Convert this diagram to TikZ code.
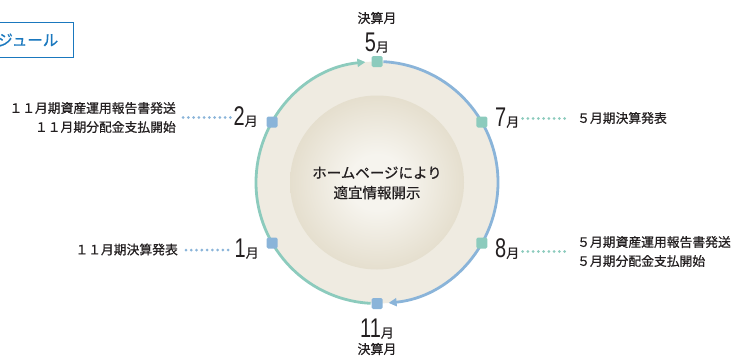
\documentclass[tikz,border=0pt]{standalone}
\usepackage{fontspec}
\setmainfont{Noto Sans CJK JP}
\newfontfamily\jpmed{Noto Sans CJK JP}[FakeBold=0.7]
\newfontfamily\numfont{Liberation Sans}
\usetikzlibrary{arrows.meta,decorations.markings}
\definecolor{teal1}{HTML}{8CCBBD}
\definecolor{blue1}{HTML}{8AB4D9}
\definecolor{beige}{HTML}{EFEBE1}
\definecolor{innerc}{HTML}{F6F4EE}
\definecolor{outerc}{HTML}{CCBF9F}
\definecolor{titleblue}{HTML}{1A78BE}
\definecolor{txt}{HTML}{231F20}
\pgfdeclareradialshading{discshade}{\pgfpoint{0bp}{0bp}}{color(0bp)=(innerc); color(8bp)=(innerc); color(50bp)=(outerc)}
\tikzset{
  marker/.style={draw=none, fill=#1, minimum size=11pt, inner sep=0pt, rounded corners=1.5pt},
  month/.style={inner sep=0pt, text=txt, font=\jpmed\fontsize{13}{14}\selectfont},
  note/.style={inner sep=0pt, text=txt, font=\jpmed\fontsize{12.8}{19}\selectfont, align=#1},
  dotline/.style={decoration={markings, mark=between positions 0 and 1 step 5.25pt with {\fill[#1] (0,0) circle[radius=1.5pt];}}, decorate},
  ring/.style={draw=#1, line width=2.8pt},
}
\newcommand{\bignum}[1]{\scalebox{0.74}[1]{\fontsize{27}{27}\selectfont\numfont #1}}
\begin{document}
\begin{tikzpicture}[x=1pt,y=1pt]
\useasboundingbox (0,0) rectangle (738,357);
% title box (cut at left)
\node[draw=titleblue, line width=1.4pt, text=titleblue, font=\jpmed\fontsize{15.5}{16}\selectfont, anchor=east, minimum height=35pt, inner xsep=15pt] (title) at (74,317) {スケジュール};
% disc
\coordinate (c) at (377,174.5);
\fill[beige] (c) circle[radius=121];
\shade[shading=discshade] (c) circle[radius=87];
\node[text=txt, font=\jpmed\fontsize{14.5}{20}\selectfont, align=center] (center) at (377,174) {ホームページにより\\適宜情報開示};
% arcs
\draw[ring=teal1, -{Triangle[length=8pt,width=8pt]}] ([shift={(267:121)}]c) arc[start angle=267, end angle=95.5, radius=121];
\draw[ring=blue1, -{Triangle[length=8pt,width=8pt]}] ([shift={(87:121)}]c) arc[start angle=87, end angle=-84.5, radius=121];
% markers
\node[marker=teal1] (m5) at ([shift={(90:121)}]c) {};
\node[marker=teal1] (m7) at ([shift={(30:121)}]c) {};
\node[marker=teal1] (m8) at ([shift={(-30:121)}]c) {};
\node[marker=blue1] (m11) at ([shift={(-90:121)}]c) {};
\node[marker=blue1] (m1) at ([shift={(210:121)}]c) {};
\node[marker=blue1] (m2) at ([shift={(150:121)}]c) {};
% month labels
\node[month] (l5) at (377,314) {\bignum{5}月};
\node[month] (k5) at (377,339) {決算月};
\node[month] (l11) at (377,28) {\bignum{11}月};
\node[month] (k11) at (377,8) {決算月};
\node[month, anchor=east] (l2) at (258,240) {\bignum{2}月};
\node[month, anchor=east] (l1) at (259,108) {\bignum{1}月};
\node[month, anchor=west] (l7) at (495,239) {\bignum{7}月};
\node[month, anchor=west] (l8) at (495,108) {\bignum{8}月};
% notes
\node[note=right, anchor=east] (n2) at (176,239.5) {１１月期資産運用報告書発送\\１１月期分配金支払開始};
\node[note=right, anchor=east] (n1) at (178,107.5) {１１月期決算発表};
\node[note=left, anchor=west] (n7) at (577,239) {５月期決算発表};
\node[note=left, anchor=west] (n8) at (577,105.5) {５月期資産運用報告書発送\\５月期分配金支払開始};
% dotted connectors
\path[dotline=blue1] ([xshift=7pt]n2.east |- 0,239.5) -- ([xshift=-3pt]l2.west |- 0,239.5);
\path[dotline=blue1] ([xshift=8pt]n1.east |- 0,107) -- ([xshift=-3pt]l1.west |- 0,107);
\path[dotline=teal1] ([xshift=3pt]l7.east |- 0,238.5) -- ([xshift=-8pt]n7.west |- 0,238.5);
\path[dotline=teal1] ([xshift=3pt]l8.east |- 0,105.5) -- ([xshift=-8pt]n8.west |- 0,105.5);
\end{tikzpicture}
\end{document}
